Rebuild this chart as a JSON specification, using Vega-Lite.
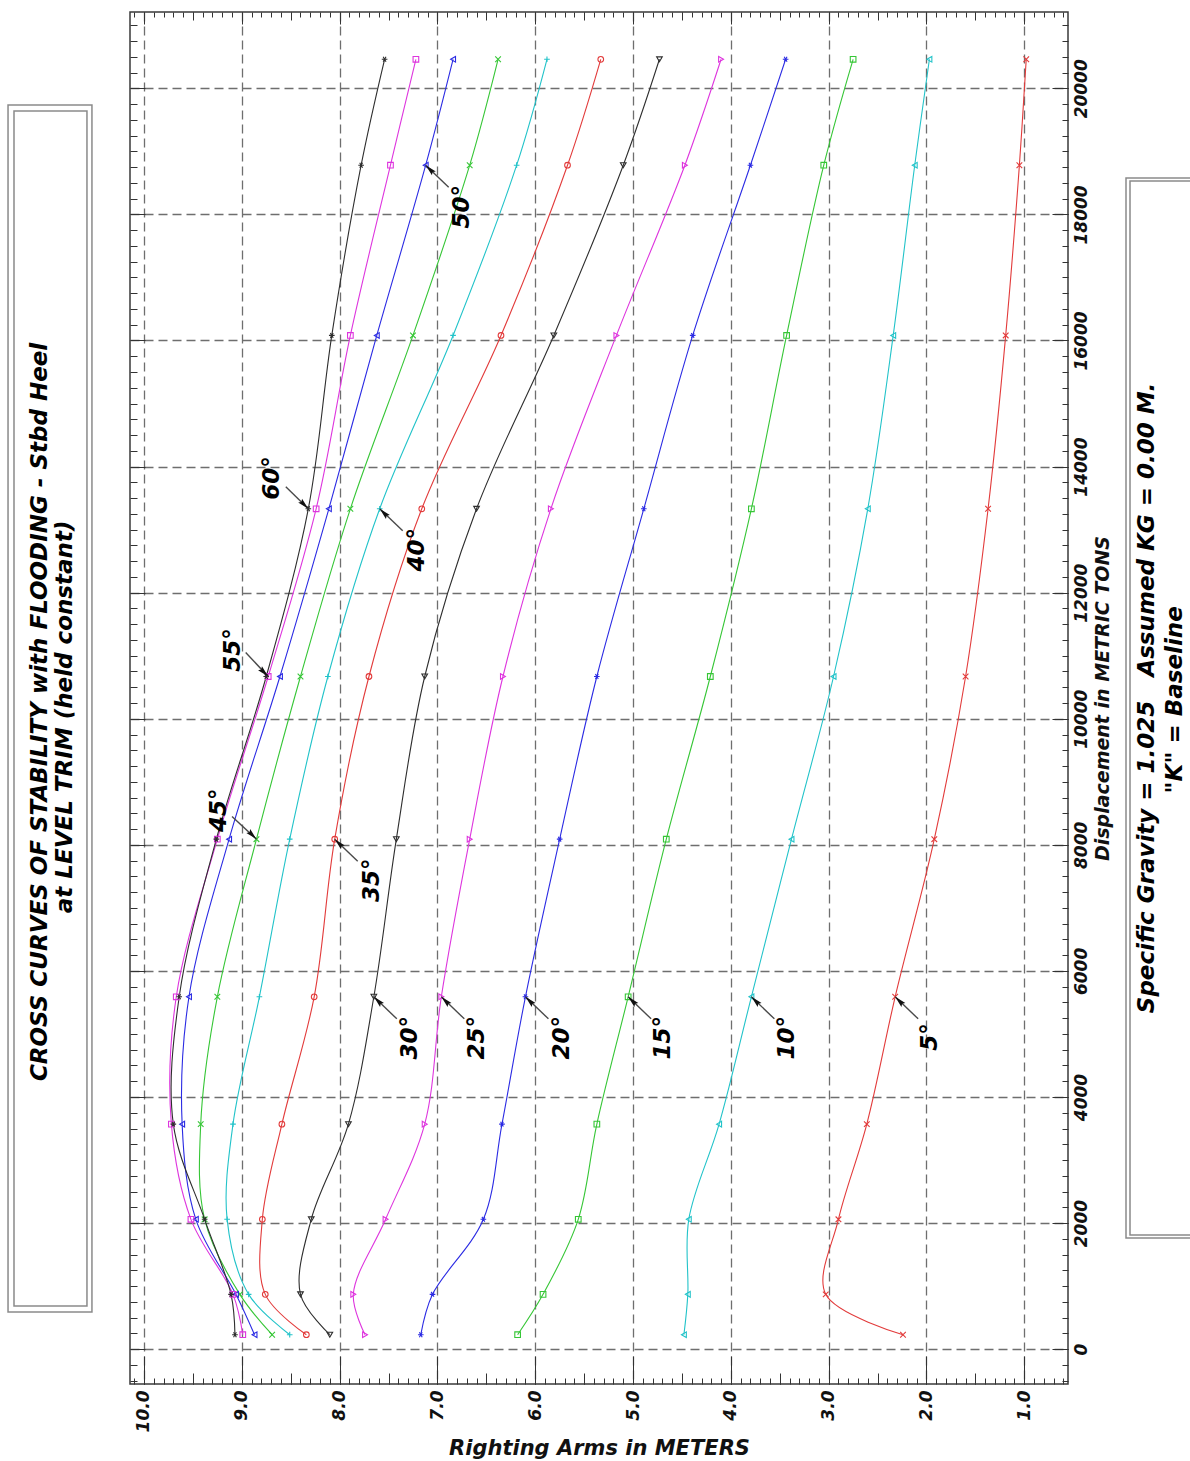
{
  "$schema": "https://vega.github.io/schema/vega-lite/v6.json",
  "width": 938,
  "height": 1372,
  "autosize": {"type": "none"},
  "padding": {"left": 130, "top": 12, "right": 122, "bottom": 77},
  "background": "white",
  "config": {
    "view": {"stroke": "#3a3a3a", "strokeWidth": 1.5},
    "axis": {
      "labelFont": "DejaVu Sans", "labelFontWeight": "bold", "labelFontStyle": "italic", "labelColor": "#111",
      "titleFont": "DejaVu Sans", "titleFontWeight": "bold", "titleFontStyle": "italic", "titleColor": "#111",
      "tickColor": "#333", "tickWidth": 1, "domain": false, "grid": false, "labels": false, "title": null
    }
  },
  "datasets": {
    "curves": [
      {"angle": 5, "disp": 230, "arm": 2.24}, {"angle": 5, "disp": 870, "arm": 3.03}, {"angle": 5, "disp": 2060, "arm": 2.90}, {"angle": 5, "disp": 3570, "arm": 2.61}, {"angle": 5, "disp": 5590, "arm": 2.32}, {"angle": 5, "disp": 8090, "arm": 1.92}, {"angle": 5, "disp": 10670, "arm": 1.60}, {"angle": 5, "disp": 13330, "arm": 1.37}, {"angle": 5, "disp": 16080, "arm": 1.19}, {"angle": 5, "disp": 18780, "arm": 1.05}, {"angle": 5, "disp": 20460, "arm": 0.98},
      {"angle": 10, "disp": 230, "arm": 4.48}, {"angle": 10, "disp": 870, "arm": 4.44}, {"angle": 10, "disp": 2060, "arm": 4.43}, {"angle": 10, "disp": 3570, "arm": 4.12}, {"angle": 10, "disp": 5590, "arm": 3.79}, {"angle": 10, "disp": 8090, "arm": 3.38}, {"angle": 10, "disp": 10670, "arm": 2.95}, {"angle": 10, "disp": 13330, "arm": 2.60}, {"angle": 10, "disp": 16080, "arm": 2.34}, {"angle": 10, "disp": 18780, "arm": 2.12}, {"angle": 10, "disp": 20460, "arm": 1.97},
      {"angle": 15, "disp": 230, "arm": 6.18}, {"angle": 15, "disp": 870, "arm": 5.92}, {"angle": 15, "disp": 2060, "arm": 5.56}, {"angle": 15, "disp": 3570, "arm": 5.37}, {"angle": 15, "disp": 5590, "arm": 5.05}, {"angle": 15, "disp": 8090, "arm": 4.66}, {"angle": 15, "disp": 10670, "arm": 4.21}, {"angle": 15, "disp": 13330, "arm": 3.79}, {"angle": 15, "disp": 16080, "arm": 3.43}, {"angle": 15, "disp": 18780, "arm": 3.05}, {"angle": 15, "disp": 20460, "arm": 2.75},
      {"angle": 20, "disp": 230, "arm": 7.17}, {"angle": 20, "disp": 870, "arm": 7.05}, {"angle": 20, "disp": 2060, "arm": 6.53}, {"angle": 20, "disp": 3570, "arm": 6.34}, {"angle": 20, "disp": 5590, "arm": 6.10}, {"angle": 20, "disp": 8090, "arm": 5.75}, {"angle": 20, "disp": 10670, "arm": 5.37}, {"angle": 20, "disp": 13330, "arm": 4.89}, {"angle": 20, "disp": 16080, "arm": 4.39}, {"angle": 20, "disp": 18780, "arm": 3.80}, {"angle": 20, "disp": 20460, "arm": 3.44},
      {"angle": 25, "disp": 230, "arm": 7.74}, {"angle": 25, "disp": 870, "arm": 7.86}, {"angle": 25, "disp": 2060, "arm": 7.53}, {"angle": 25, "disp": 3570, "arm": 7.13}, {"angle": 25, "disp": 5590, "arm": 6.96}, {"angle": 25, "disp": 8090, "arm": 6.67}, {"angle": 25, "disp": 10670, "arm": 6.33}, {"angle": 25, "disp": 13330, "arm": 5.84}, {"angle": 25, "disp": 16080, "arm": 5.17}, {"angle": 25, "disp": 18780, "arm": 4.47}, {"angle": 25, "disp": 20460, "arm": 4.10},
      {"angle": 30, "disp": 230, "arm": 8.10}, {"angle": 30, "disp": 870, "arm": 8.40}, {"angle": 30, "disp": 2060, "arm": 8.29}, {"angle": 30, "disp": 3570, "arm": 7.91}, {"angle": 30, "disp": 5590, "arm": 7.65}, {"angle": 30, "disp": 8090, "arm": 7.42}, {"angle": 30, "disp": 10670, "arm": 7.13}, {"angle": 30, "disp": 13330, "arm": 6.60}, {"angle": 30, "disp": 16080, "arm": 5.81}, {"angle": 30, "disp": 18780, "arm": 5.10}, {"angle": 30, "disp": 20460, "arm": 4.73},
      {"angle": 35, "disp": 230, "arm": 8.34}, {"angle": 35, "disp": 870, "arm": 8.76}, {"angle": 35, "disp": 2060, "arm": 8.79}, {"angle": 35, "disp": 3570, "arm": 8.59}, {"angle": 35, "disp": 5590, "arm": 8.26}, {"angle": 35, "disp": 8090, "arm": 8.05}, {"angle": 35, "disp": 10670, "arm": 7.70}, {"angle": 35, "disp": 13330, "arm": 7.16}, {"angle": 35, "disp": 16080, "arm": 6.35}, {"angle": 35, "disp": 18780, "arm": 5.67}, {"angle": 35, "disp": 20460, "arm": 5.33},
      {"angle": 40, "disp": 230, "arm": 8.51}, {"angle": 40, "disp": 870, "arm": 8.93}, {"angle": 40, "disp": 2060, "arm": 9.15}, {"angle": 40, "disp": 3570, "arm": 9.09}, {"angle": 40, "disp": 5590, "arm": 8.82}, {"angle": 40, "disp": 8090, "arm": 8.51}, {"angle": 40, "disp": 10670, "arm": 8.12}, {"angle": 40, "disp": 13330, "arm": 7.59}, {"angle": 40, "disp": 16080, "arm": 6.84}, {"angle": 40, "disp": 18780, "arm": 6.19}, {"angle": 40, "disp": 20460, "arm": 5.88},
      {"angle": 45, "disp": 230, "arm": 8.69}, {"angle": 45, "disp": 870, "arm": 9.02}, {"angle": 45, "disp": 2060, "arm": 9.38}, {"angle": 45, "disp": 3570, "arm": 9.42}, {"angle": 45, "disp": 5590, "arm": 9.25}, {"angle": 45, "disp": 8090, "arm": 8.85}, {"angle": 45, "disp": 10670, "arm": 8.40}, {"angle": 45, "disp": 13330, "arm": 7.89}, {"angle": 45, "disp": 16080, "arm": 7.25}, {"angle": 45, "disp": 18780, "arm": 6.67}, {"angle": 45, "disp": 20460, "arm": 6.38},
      {"angle": 50, "disp": 230, "arm": 8.87}, {"angle": 50, "disp": 870, "arm": 9.06}, {"angle": 50, "disp": 2060, "arm": 9.47}, {"angle": 50, "disp": 3570, "arm": 9.61}, {"angle": 50, "disp": 5590, "arm": 9.54}, {"angle": 50, "disp": 8090, "arm": 9.13}, {"angle": 50, "disp": 10670, "arm": 8.61}, {"angle": 50, "disp": 13330, "arm": 8.11}, {"angle": 50, "disp": 16080, "arm": 7.62}, {"angle": 50, "disp": 18780, "arm": 7.12}, {"angle": 50, "disp": 20460, "arm": 6.84},
      {"angle": 55, "disp": 230, "arm": 8.99}, {"angle": 55, "disp": 870, "arm": 9.09}, {"angle": 55, "disp": 2060, "arm": 9.52}, {"angle": 55, "disp": 3570, "arm": 9.72}, {"angle": 55, "disp": 5590, "arm": 9.67}, {"angle": 55, "disp": 8090, "arm": 9.25}, {"angle": 55, "disp": 10670, "arm": 8.73}, {"angle": 55, "disp": 13330, "arm": 8.24}, {"angle": 55, "disp": 16080, "arm": 7.89}, {"angle": 55, "disp": 18780, "arm": 7.48}, {"angle": 55, "disp": 20460, "arm": 7.22},
      {"angle": 60, "disp": 230, "arm": 9.07}, {"angle": 60, "disp": 870, "arm": 9.11}, {"angle": 60, "disp": 2060, "arm": 9.38}, {"angle": 60, "disp": 3570, "arm": 9.70}, {"angle": 60, "disp": 5590, "arm": 9.64}, {"angle": 60, "disp": 8090, "arm": 9.26}, {"angle": 60, "disp": 10670, "arm": 8.75}, {"angle": 60, "disp": 13330, "arm": 8.32}, {"angle": 60, "disp": 16080, "arm": 8.08}, {"angle": 60, "disp": 18780, "arm": 7.78}, {"angle": 60, "disp": 20460, "arm": 7.54}
    ],
    "labels": [
      {"label": "5°", "arm": 1.96, "disp": 4950},
      {"label": "10°", "arm": 3.43, "disp": 4940},
      {"label": "15°", "arm": 4.69, "disp": 4940},
      {"label": "20°", "arm": 5.73, "disp": 4940},
      {"label": "25°", "arm": 6.60, "disp": 4940},
      {"label": "30°", "arm": 7.28, "disp": 4940},
      {"label": "35°", "arm": 7.67, "disp": 7440},
      {"label": "40°", "arm": 7.21, "disp": 12680},
      {"label": "45°", "arm": 9.23, "disp": 8550},
      {"label": "50°", "arm": 6.75, "disp": 18120},
      {"label": "55°", "arm": 9.09, "disp": 11090},
      {"label": "60°", "arm": 8.69, "disp": 13820}
    ],
    "arrows": [
      {"label": "5°", "headArm": 2.32, "headDisp": 5590, "tailArm": 2.085, "tailDisp": 5240, "dir": "up-left"},
      {"label": "10°", "headArm": 3.79, "headDisp": 5590, "tailArm": 3.555, "tailDisp": 5240, "dir": "up-left"},
      {"label": "15°", "headArm": 5.05, "headDisp": 5590, "tailArm": 4.815, "tailDisp": 5240, "dir": "up-left"},
      {"label": "20°", "headArm": 6.10, "headDisp": 5590, "tailArm": 5.865, "tailDisp": 5240, "dir": "up-left"},
      {"label": "25°", "headArm": 6.96, "headDisp": 5590, "tailArm": 6.725, "tailDisp": 5240, "dir": "up-left"},
      {"label": "30°", "headArm": 7.65, "headDisp": 5590, "tailArm": 7.415, "tailDisp": 5240, "dir": "up-left"},
      {"label": "35°", "headArm": 8.05, "headDisp": 8090, "tailArm": 7.815, "tailDisp": 7740, "dir": "up-left"},
      {"label": "40°", "headArm": 7.59, "headDisp": 13330, "tailArm": 7.355, "tailDisp": 12980, "dir": "up-left"},
      {"label": "50°", "headArm": 7.12, "headDisp": 18780, "tailArm": 6.885, "tailDisp": 18430, "dir": "up-left"},
      {"label": "45°", "headArm": 8.85, "headDisp": 8090, "tailArm": 9.10, "tailDisp": 8450, "dir": "down-right"},
      {"label": "55°", "headArm": 8.73, "headDisp": 10670, "tailArm": 8.96, "tailDisp": 11050, "dir": "down-right"},
      {"label": "60°", "headArm": 8.32, "headDisp": 13330, "tailArm": 8.55, "tailDisp": 13680, "dir": "down-right"}
    ],
    "boxes": [
      {"box": "title outer", "arm1": 11.39, "arm2": 10.532, "disp1": 591, "disp2": 19735},
      {"box": "title inner", "arm1": 11.329, "arm2": 10.583, "disp1": 686, "disp2": 19640},
      {"box": "note outer", "arm1": -0.04, "arm2": -0.85, "disp1": 1765, "disp2": 18577},
      {"box": "note inner", "arm1": -0.081, "arm2": -0.85, "disp1": 1813, "disp2": 18530}
    ],
    "notes": [
      {"text": "CROSS CURVES OF STABILITY with FLOODING - Stbd Heel", "arm": 11.063, "disp": 10108},
      {"text": "at LEVEL TRIM (held constant)", "arm": 10.808, "disp": 10029},
      {"text": "Specific Gravity = 1.025 \u00a0\u00a0Assumed KG = 0.00 M.", "arm": -0.254, "disp": 10330},
      {"text": "\"K\" = Baseline", "arm": -0.541, "disp": 10300}
    ]
  },
  "resolve": {"axis": {"x": "independent", "y": "independent"}},
  "layer": [
    {
      "data": {"name": "boxes"},
      "mark": {"type": "rect", "fillOpacity": 0, "stroke": "#8a8a8a", "strokeWidth": 1.5, "clip": false},
      "encoding": {
        "x": {"field": "arm1", "type": "quantitative",
              "scale": {"domain": [0.553, 10.143], "reverse": true, "nice": false, "zero": false},
              "axis": {"orient": "bottom", "values": [1,2,3,4,5,6,7,8,9,10], "format": ".1f", "labels": true,
                       "labelAngle": 270, "labelAlign": "right", "labelBaseline": "middle", "labelFontSize": 17, "labelPadding": 6,
                       "ticks": false, "grid": true, "gridDash": [9, 5], "gridColor": "#6e6e6e", "gridWidth": 1.3,
                       "title": "Righting Arms in METERS", "titleFontSize": 21, "titlePadding": 6}},
        "x2": {"field": "arm2"},
        "y": {"field": "disp1", "type": "quantitative",
              "scale": {"domain": [-552, 21210], "nice": false, "zero": false},
              "axis": {"orient": "right", "values": [0,2000,4000,6000,8000,10000,12000,14000,16000,18000,20000], "format": "d", "labels": true,
                       "labelAngle": 270, "labelAlign": "center", "labelBaseline": "top", "labelFontSize": 17, "labelPadding": 5,
                       "ticks": false, "grid": true, "gridDash": [9, 5], "gridColor": "#6e6e6e", "gridWidth": 1.3,
                       "title": "Displacement in METRIC TONS", "titleAngle": 270, "titleBaseline": "top", "titleFontSize": 19, "titlePadding": 4}},
        "y2": {"field": "disp2"}
      }
    },
    {
      "data": {"name": "curves"},
      "mark": {"type": "line", "interpolate": "catmull-rom", "strokeWidth": 1.1},
      "encoding": {
        "x": {"field": "arm", "type": "quantitative",
              "scale": {"domain": [0.553, 10.143], "reverse": true, "nice": false, "zero": false},
              "axis": {"orient": "bottom", "values": [1,2,3,4,5,6,7,8,9,10], "tickSize": -28}},
        "y": {"field": "disp", "type": "quantitative",
              "scale": {"domain": [-552, 21210], "nice": false, "zero": false},
              "axis": {"orient": "right", "values": [0,2000,4000,6000,8000,10000,12000,14000,16000,18000,20000], "tickSize": -16}},
        "order": {"field": "disp", "type": "quantitative"},
        "detail": {"field": "angle", "type": "nominal"},
        "color": {"field": "angle", "type": "nominal", "legend": null,
                  "scale": {"domain": [5,10,15,20,25,30,35,40,45,50,55,60],
                            "range": ["#e23b3b","#22c3c9","#36c636","#2b2be3","#de35de","#2e2e2e","#e23b3b","#22c3c9","#36c636","#2b2be3","#de35de","#2e2e2e"]}}
      }
    },
    {
      "data": {"name": "curves"},
      "mark": {"type": "point", "filled": false, "size": 32, "strokeWidth": 1.1, "opacity": 1},
      "encoding": {
        "x": {"field": "arm", "type": "quantitative",
              "scale": {"domain": [0.553, 10.143], "reverse": true, "nice": false, "zero": false},
              "axis": {"orient": "bottom", "tickCount": 100, "tickSize": -6}},
        "y": {"field": "disp", "type": "quantitative",
              "scale": {"domain": [-552, 21210], "nice": false, "zero": false},
              "axis": {"orient": "right", "tickSize": -6, "values": [-500,-250,0,250,500,750,1000,1250,1500,1750,2000,2250,2500,2750,3000,3250,3500,3750,4000,4250,4500,4750,5000,5250,5500,5750,6000,6250,6500,6750,7000,7250,7500,7750,8000,8250,8500,8750,9000,9250,9500,9750,10000,10250,10500,10750,11000,11250,11500,11750,12000,12250,12500,12750,13000,13250,13500,13750,14000,14250,14500,14750,15000,15250,15500,15750,16000,16250,16500,16750,17000,17250,17500,17750,18000,18250,18500,18750,19000,19250,19500,19750,20000,20250,20500,20750,21000]}},
        "color": {"field": "angle", "type": "nominal", "legend": null,
                  "scale": {"domain": [5,10,15,20,25,30,35,40,45,50,55,60],
                            "range": ["#e23b3b","#22c3c9","#36c636","#2b2be3","#de35de","#2e2e2e","#e23b3b","#22c3c9","#36c636","#2b2be3","#de35de","#2e2e2e"]}},
        "shape": {"field": "angle", "type": "nominal", "legend": null,
                  "scale": {"domain": [5,10,15,20,25,30,35,40,45,50,55,60],
                            "range": ["M-1,-1L1,1M-1,1L1,-1", "triangle-left", "square", "M-1,0L1,0M-0.5,-0.87L0.5,0.87M-0.5,0.87L0.5,-0.87", "triangle-right", "triangle-down", "circle", "M-1,0L1,0M0,-1L0,1", "M-1,-1L1,1M-1,1L1,-1", "triangle-left", "square", "M-1,0L1,0M-0.5,-0.87L0.5,0.87M-0.5,0.87L0.5,-0.87"]}}
      }
    },
    {
      "data": {"name": "arrows"},
      "mark": {"type": "rule", "color": "#4a4a4a", "strokeWidth": 1.4},
      "encoding": {
        "x": {"field": "tailArm", "type": "quantitative",
              "scale": {"domain": [0.553, 10.143], "reverse": true, "nice": false, "zero": false},
              "axis": {"orient": "top", "values": [1,2,3,4,5,6,7,8,9,10], "tickSize": -12}},
        "x2": {"field": "headArm"},
        "y": {"field": "tailDisp", "type": "quantitative",
              "scale": {"domain": [-552, 21210], "nice": false, "zero": false},
              "axis": {"orient": "left", "values": [0,2000,4000,6000,8000,10000,12000,14000,16000,18000,20000], "tickSize": -15}},
        "y2": {"field": "headDisp"}
      }
    },
    {
      "data": {"name": "arrows"},
      "mark": {"type": "point", "filled": true, "color": "#111", "size": 210, "opacity": 1},
      "encoding": {
        "x": {"field": "headArm", "type": "quantitative",
              "scale": {"domain": [0.553, 10.143], "reverse": true, "nice": false, "zero": false},
              "axis": {"orient": "top", "tickCount": 100, "tickSize": -5}},
        "y": {"field": "headDisp", "type": "quantitative",
              "scale": {"domain": [-552, 21210], "nice": false, "zero": false},
              "axis": {"orient": "left", "tickSize": -7, "values": [-500,-250,0,250,500,750,1000,1250,1500,1750,2000,2250,2500,2750,3000,3250,3500,3750,4000,4250,4500,4750,5000,5250,5500,5750,6000,6250,6500,6750,7000,7250,7500,7750,8000,8250,8500,8750,9000,9250,9500,9750,10000,10250,10500,10750,11000,11250,11500,11750,12000,12250,12500,12750,13000,13250,13500,13750,14000,14250,14500,14750,15000,15250,15500,15750,16000,16250,16500,16750,17000,17250,17500,17750,18000,18250,18500,18750,19000,19250,19500,19750,20000,20250,20500,20750,21000]}},
        "shape": {"value": "M0,0L-0.38,1.6L0,1.35L0.38,1.6Z"},
        "angle": {"field": "dir", "type": "nominal", "scale": {"domain": ["up-left", "down-right"], "range": [315, 135]}}
      }
    },
    {
      "data": {"name": "labels"},
      "mark": {"type": "text", "angle": 270, "align": "center", "baseline": "middle", "font": "DejaVu Sans", "fontWeight": "bold", "fontStyle": "italic", "fontSize": 23, "color": "#000"},
      "encoding": {
        "x": {"field": "arm", "type": "quantitative",
              "scale": {"domain": [0.553, 10.143], "reverse": true, "nice": false, "zero": false},
              "axis": {"orient": "bottom", "tickCount": 20, "tickSize": -11}},
        "y": {"field": "disp", "type": "quantitative",
              "scale": {"domain": [-552, 21210], "nice": false, "zero": false}, "axis": null},
        "text": {"field": "label"}
      }
    },
    {
      "data": {"name": "notes"},
      "mark": {"type": "text", "angle": 270, "align": "center", "baseline": "middle", "font": "DejaVu Sans", "fontWeight": "bold", "fontStyle": "italic", "fontSize": 23, "color": "#000", "clip": false},
      "encoding": {
        "x": {"field": "arm", "type": "quantitative",
              "scale": {"domain": [0.553, 10.143], "reverse": true, "nice": false, "zero": false},
              "axis": {"orient": "top", "tickCount": 20, "tickSize": -8}},
        "y": {"field": "disp", "type": "quantitative",
              "scale": {"domain": [-552, 21210], "nice": false, "zero": false}, "axis": null},
        "text": {"field": "text"}
      }
    }
  ]
}
